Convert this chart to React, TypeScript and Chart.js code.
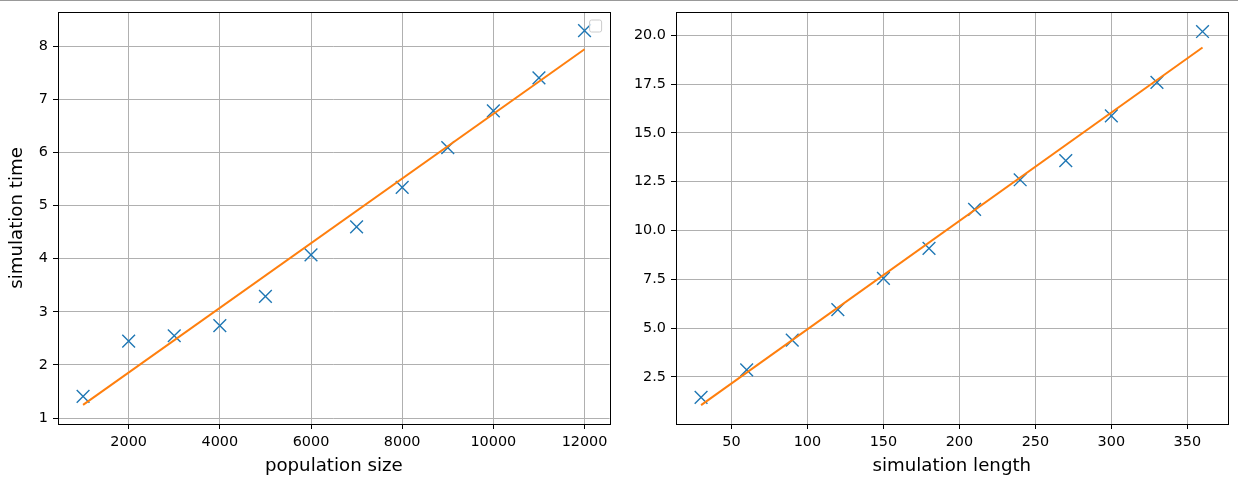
import React, { useEffect, useRef } from "react";
import { Chart, registerables } from "chart.js";

Chart.register(...registerables);

// ---- Left panel: population size vs simulation time ----
const popSizes = [1000, 2000, 3000, 4000, 5000, 6000, 7000, 8000, 9000, 10000, 11000, 12000];
const popTimes = [1.41, 2.45, 2.55, 2.74, 3.29, 4.07, 4.6, 5.34, 6.09, 6.78, 7.4, 8.29];
const popFitX = [1000, 12000];
const popFitY = [1.25, 7.94];
const popXTicks = [2000, 4000, 6000, 8000, 10000, 12000];
const popYTicks = [1, 2, 3, 4, 5, 6, 7, 8];
const popXRange = [450, 12550];
const popYRange = [0.89, 8.64];

// ---- Right panel: simulation length vs simulation time ----
const simLengths = [30, 60, 90, 120, 150, 180, 210, 240, 270, 300, 330, 360];
const simTimes = [1.44, 2.86, 4.38, 5.94, 7.54, 9.08, 11.08, 12.6, 13.58, 15.88, 17.59, 20.2];
const simFitX = [30, 360];
const simFitY = [1.05, 19.38];
const simXTicks = [50, 100, 150, 200, 250, 300, 350];
const simYTicks = [2.5, 5.0, 7.5, 10.0, 12.5, 15.0, 17.5, 20.0];
const simXRange = [13.5, 376.5];
const simYRange = [0.08, 21.2];

const FONT = "'DejaVu Sans', 'Liberation Sans', sans-serif";
const TICK_SIZE = 14.4;
const TITLE_SIZE = 18.2;

const framePlugin = {
  id: "frame",
  afterDraw(chart: any, _args: any, opts: any) {
    const { ctx, chartArea: a } = chart;
    ctx.save();
    ctx.strokeStyle = "#000";
    ctx.lineWidth = 1;
    const l = Math.round(a.left) + 0.5;
    const t = Math.round(a.top) + 0.5;
    const r = Math.round(a.right) + 0.5;
    const b = Math.round(a.bottom) + 0.5;
    ctx.strokeRect(l, t, r - l, b - t);
    if (opts && opts.emptyLegend) {
      const w = 12, h = 12;
      const x = a.right - 20;
      const y = a.top + 8;
      ctx.beginPath();
      ctx.roundRect(x, y, w, h, 2);
      ctx.fillStyle = "rgba(255,255,255,0.8)";
      ctx.fill();
      ctx.strokeStyle = "#cccccc";
      ctx.lineWidth = 1;
      ctx.stroke();
    }
    ctx.restore();
  },
};

const zeroPad = (s: any) => {
  s.paddingTop = 0;
  s.paddingBottom = 0;
  s.paddingLeft = 0;
  s.paddingRight = 0;
};

type PanelProps = {
  xs: number[];
  ys: number[];
  fitX: number[];
  fitY: number[];
  xTicks: number[];
  yTicks: number[];
  xRange: number[];
  yRange: number[];
  xTitle: string;
  yTitle?: string;
  yFmt: (v: number) => string;
  emptyLegend?: boolean;
  left: number;
};

function Panel(p: PanelProps) {
  const ref = useRef<HTMLCanvasElement | null>(null);
  useEffect(() => {
    if (!ref.current) return;
    const scatterData = p.xs.map((x, i) => ({ x, y: p.ys[i] }));
    const fitData = p.fitX.map((x, i) => ({ x, y: p.fitY[i] }));
    const gridOpts = {
      color: "#b0b0b0",
      lineWidth: 1,
      drawTicks: true,
      tickLength: 5,
      tickColor: "#000",
      tickWidth: 1,
    };
    const chart = new Chart(ref.current, {
      type: "scatter",
      data: {
        datasets: [
          {
            data: fitData,
            showLine: true,
            borderColor: "#ff7f0e",
            backgroundColor: "#ff7f0e",
            borderWidth: 2,
            pointRadius: 0,
            pointHoverRadius: 0,
          },
          {
            data: scatterData,
            showLine: false,
            pointStyle: "crossRot",
            pointRadius: 9,
            pointHoverRadius: 9,
            borderColor: "#1f77b4",
            backgroundColor: "#1f77b4",
            pointBorderWidth: 1.4,
            borderWidth: 1.4,
          } as any,
        ],
      },
      options: {
        responsive: false,
        animation: false,
        events: [],
        layout: { padding: { top: 12, right: 8, bottom: 0, left: 0 } },
        plugins: {
          legend: { display: false },
          tooltip: { enabled: false },
          frame: { emptyLegend: !!p.emptyLegend },
        } as any,
        scales: {
          x: {
            type: "linear",
            min: p.xRange[0],
            max: p.xRange[1],
            afterBuildTicks: (s: any) => {
              s.ticks = p.xTicks.map((v) => ({ value: v }));
            },
            afterFit: (s: any) => {
              s.height = 67;
              zeroPad(s);
            },
            border: { display: false },
            grid: gridOpts,
            ticks: {
              autoSkip: false,
              maxRotation: 0,
              padding: 5,
              color: "#000",
              font: { family: FONT, size: TICK_SIZE },
              callback: (v: any) => String(v),
            },
            title: {
              display: true,
              text: p.xTitle,
              color: "#000",
              font: { family: FONT, size: TITLE_SIZE },
              padding: { top: 0, bottom: 14 },
            },
          },
          y: {
            type: "linear",
            min: p.yRange[0],
            max: p.yRange[1],
            afterBuildTicks: (s: any) => {
              s.ticks = p.yTicks.map((v) => ({ value: v }));
            },
            afterFit: (s: any) => {
              s.width = 58;
              zeroPad(s);
            },
            border: { display: false },
            grid: gridOpts,
            ticks: {
              autoSkip: false,
              padding: 5,
              color: "#000",
              font: { family: FONT, size: TICK_SIZE },
              callback: (v: any) => p.yFmt(Number(v)),
            },
            title: {
              display: !!p.yTitle,
              text: p.yTitle || "",
              color: "#000",
              font: { family: FONT, size: TITLE_SIZE },
              padding: { top: 6, bottom: 0 },
            },
          },
        },
      },
      plugins: [framePlugin as any],
    });
    return () => chart.destroy();
  }, []);
  return (
    <canvas
      ref={ref}
      width={620}
      height={491}
      style={{ position: "absolute", left: p.left, top: 0, width: 620, height: 491 }}
    />
  );
}

export default function App() {
  return (
    <div
      style={{
        position: "absolute",
        left: 0,
        top: 0,
        width: 1238,
        height: 491,
        background: "#fff",
        overflow: "hidden",
      }}
    >
      <div
        style={{
          position: "absolute",
          left: 0,
          top: 0,
          width: 1238,
          height: 1,
          background: "#999",
          zIndex: 2,
        }}
      />
      <Panel
        xs={popSizes}
        ys={popTimes}
        fitX={popFitX}
        fitY={popFitY}
        xTicks={popXTicks}
        yTicks={popYTicks}
        xRange={popXRange}
        yRange={popYRange}
        xTitle="population size"
        yTitle="simulation time"
        yFmt={(v) => String(v)}
        emptyLegend={true}
        left={0}
      />
      <Panel
        xs={simLengths}
        ys={simTimes}
        fitX={simFitX}
        fitY={simFitY}
        xTicks={simXTicks}
        yTicks={simYTicks}
        xRange={simXRange}
        yRange={simYRange}
        xTitle="simulation length"
        yFmt={(v) => v.toFixed(1)}
        left={618}
      />
    </div>
  );
}
